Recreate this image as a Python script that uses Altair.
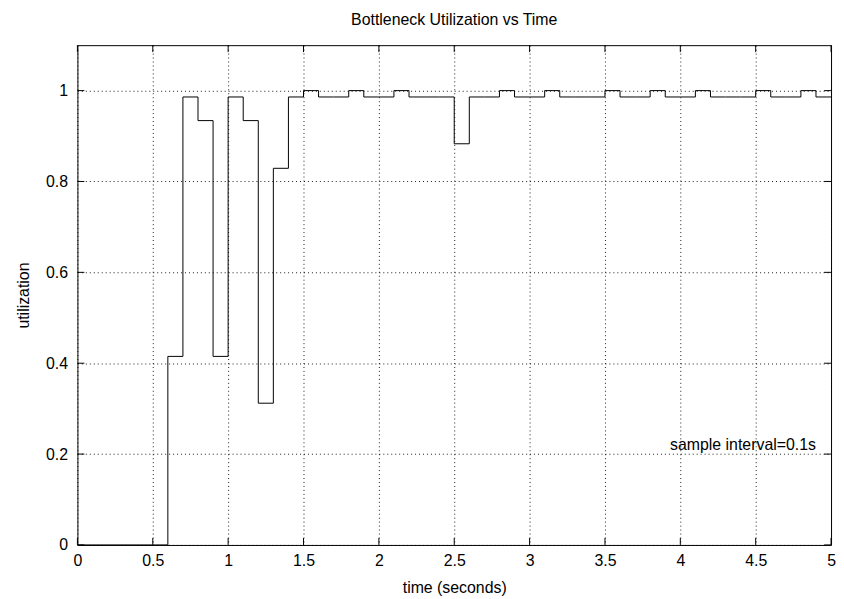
import altair as alt
import pandas as pd

# ---- data ----
times = [0.0, 0.6, 0.7, 0.8, 0.9, 1.0, 1.1, 1.2, 1.3, 1.4,
         1.5, 1.6, 1.7, 1.8, 1.9, 2.0, 2.1, 2.2, 2.3, 2.4,
         2.5, 2.6, 2.7, 2.8, 2.9, 3.0, 3.1, 3.2, 3.3, 3.4,
         3.5, 3.6, 3.7, 3.8, 3.9, 4.0, 4.1, 4.2, 4.3, 4.4,
         4.5, 4.6, 4.7, 4.8, 4.9, 5.0]
utilization = [0.0, 0.415, 0.986, 0.934, 0.415, 0.986, 0.934, 0.312, 0.829, 0.986,
               1.0, 0.986, 0.986, 1.0, 0.986, 0.986, 1.0, 0.986, 0.986, 0.986,
               0.883, 0.986, 0.986, 1.0, 0.986, 0.986, 1.0, 0.986, 0.986, 0.986,
               1.0, 0.986, 0.986, 1.0, 0.986, 0.986, 1.0, 0.986, 0.986, 0.986,
               1.0, 0.986, 0.986, 1.0, 0.986, 0.986]
x_ticks = [0, 0.5, 1, 1.5, 2, 2.5, 3, 3.5, 4, 4.5, 5]
y_ticks = [0, 0.2, 0.4, 0.6, 0.8, 1.0]
title_text = "Bottleneck Utilization vs Time"
x_title = "time (seconds)"
y_title = "utilization"
note_text = "sample interval=0.1s"
note_x = 4.9
note_y = 0.2

W, H = 760, 504
FONT = "Liberation Sans"
FS = 16

df = pd.DataFrame({"t": times, "u": utilization})
xt = pd.DataFrame({"v": x_ticks})
yt = pd.DataFrame({"v": y_ticks})

xscale = alt.Scale(domain=[0, 5], nice=False, zero=False)
yscale = alt.Scale(domain=[0, 1.1], nice=False, zero=False)

xaxis = alt.Axis(values=x_ticks, title=x_title, grid=True, ticks=False, domain=False,
                 format="~g", labelPadding=8, titlePadding=11, labelFlush=False)
yaxis = alt.Axis(values=y_ticks, title=y_title, grid=True, ticks=False, domain=False,
                 format="~g", labelPadding=10, titlePadding=14)

line = alt.Chart(df).mark_line(interpolate="step-after", color="black", strokeWidth=1).encode(
    x=alt.X("t:Q", scale=xscale, axis=xaxis),
    y=alt.Y("u:Q", scale=yscale, axis=yaxis),
)

tick_len = 7
xb = alt.Chart(xt).mark_rule(color="black", strokeWidth=1).encode(
    x=alt.X("v:Q", scale=xscale), y=alt.value(H), y2=alt.value(H - tick_len))
xtop = alt.Chart(xt).mark_rule(color="black", strokeWidth=1).encode(
    x=alt.X("v:Q", scale=xscale), y=alt.value(0), y2=alt.value(tick_len))
yl = alt.Chart(yt).mark_rule(color="black", strokeWidth=1).encode(
    y=alt.Y("v:Q", scale=yscale), x=alt.value(0), x2=alt.value(tick_len))
yr = alt.Chart(yt).mark_rule(color="black", strokeWidth=1).encode(
    y=alt.Y("v:Q", scale=yscale), x=alt.value(W), x2=alt.value(W - tick_len))

note = alt.Chart(pd.DataFrame({"txt": [note_text]})).mark_text(
    align="right", baseline="alphabetic", dy=-4, font=FONT, fontSize=FS, color="black"
).encode(
    x=alt.datum(note_x, scale=xscale), y=alt.datum(note_y, scale=yscale), text="txt:N")

chart = alt.layer(line, xb, xtop, yl, yr, note).properties(
    width=W, height=H,
    background="white",
    title=alt.TitleParams(title_text, anchor="middle", font=FONT, fontSize=FS,
                          fontWeight="normal", color="black", offset=17),
    autosize=alt.AutoSizeParams(type="none"),
    padding={"left": 70, "top": 35, "right": 5, "bottom": 50},
).configure_view(stroke="black", strokeWidth=1).configure_axis(
    gridColor="black", gridDash=[1, 3], gridOpacity=0.9, gridWidth=1,
    labelFont=FONT, labelFontSize=FS, labelColor="black",
    titleFont=FONT, titleFontSize=FS, titleFontWeight="normal", titleColor="black",
)

chart.save("out.html", embed_options={"renderer": "svg", "actions": False})
